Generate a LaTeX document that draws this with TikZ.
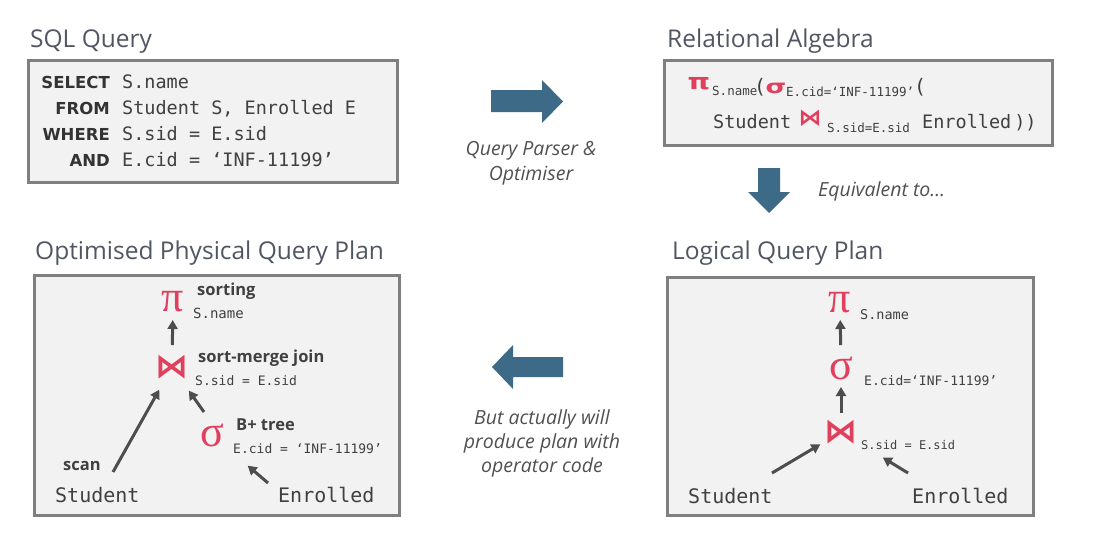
\documentclass[tikz,border=0pt]{standalone}
\usepackage{fontspec}
\setmainfont{Open Sans}
\newfontfamily\codefont{DejaVu Sans Mono}
\newfontfamily\kwfont{DejaVu Sans}
\newfontfamily\grkfont{Liberation Serif}
\newfontfamily\symfont{DejaVu Sans}
\usetikzlibrary{arrows.meta,calc}
\definecolor{titlegray}{RGB}{80,86,98}
\definecolor{boxfill}{RGB}{242,242,242}
\definecolor{boxline}{RGB}{127,127,127}
\definecolor{opred}{RGB}{224,64,94}
\definecolor{arrgray}{RGB}{77,77,77}
\definecolor{blockblue}{RGB}{61,106,134}
\definecolor{captgray}{RGB}{80,80,80}
\definecolor{codegray}{RGB}{64,64,64}
\begin{document}
\begin{tikzpicture}[x=1pt,y=-1pt,
  title/.style={anchor=base west, inner sep=0, text=titlegray, font=\fontsize{24.5}{28}\selectfont},
  panel/.style={fill=boxfill, draw=boxline, line width=3pt},
  code/.style={anchor=base west, inner sep=0, text=codegray, font=\codefont\fontsize{18.5}{22}\selectfont},
  kw/.style={anchor=base east, inner sep=0, text=black!80, font=\kwfont\bfseries\fontsize{16.5}{22}\selectfont},
  caption/.style={anchor=base, inner sep=0, text=captgray, font=\itshape\fontsize{19.5}{24}\selectfont},
  opsym/.style={inner sep=0, text=opred, font=\grkfont\fontsize{44}{44}\selectfont},
  joinsym/.style={inner sep=0, text=opred, font=\symfont\bfseries\fontsize{33}{34}\selectfont},
  rasym/.style={inner sep=0, text=opred, font=\symfont\bfseries\fontsize{22}{24}\selectfont},
  sub/.style={anchor=base west, inner sep=0, text=codegray, font=\codefont\fontsize{13}{15}\selectfont},
  rasub/.style={sub, font=\codefont\fontsize{12.5}{14}\selectfont},
  paren/.style={anchor=base west, inner sep=0, text=codegray, font=\codefont\fontsize{20}{22}\selectfont},
  algo/.style={anchor=base west, inner sep=0, text=black!75, font=\bfseries\fontsize{16.5}{18}\selectfont},
  rel/.style={anchor=base west, inner sep=0, text=codegray, font=\codefont\fontsize{20}{24}\selectfont},
  arr/.style={draw=arrgray, line width=3pt, -{Triangle[length=9pt,width=10pt]}},
  block/.style={fill=blockblue, draw=none}
]
\useasboundingbox (0,0) rectangle (1105,533);

% ---------- SQL Query ----------
\node[title] (tsql) at (30,47) {SQL Query};
\draw[panel] (28,60) rectangle (397,182);
\node[kw] (k1) at (110,88) {SELECT};
\node[kw] (k2) at (110,114) {FROM};
\node[kw] (k3) at (110,140) {WHERE};
\node[kw] (k4) at (110,166) {AND};
\node[code] (c1) at (122,88) {S.name};
\node[code] (c2) at (122,114) {Student S, Enrolled E};
\node[code] (c3) at (122,140) {S.sid = E.sid};
\node[code] (c4) at (122,166) {E.cid = ‘INF-11199’};

% ---------- Relational Algebra ----------
\node[title] (tra) at (667,47) {Relational Algebra};
\draw[panel] (664,60) rectangle (1052,145);
\node[rasym] (rpi) at (699,84) {\scalebox{1.3}[1]{π}};
\node[rasub] (rpisub) at (712,95) {S.name};
\node[paren] (rp1) at (754,93) {(};
\node[rasym, font=\symfont\bfseries\fontsize{19}{22}\selectfont] (rsig) at (776,88) {\scalebox{1.4}[1]{σ}};
\node[rasub] (rsigsub) at (786,96) {E.cid=‘INF-11199’};
\node[paren] (rp2) at (914,93) {(};
\node[code] (rstu) at (713,128) {Student};
\node[rasym, font=\symfont\bfseries\fontsize{23}{24}\selectfont] (rj) at (810,118) {⋈};
\node[rasub] (rjsub) at (827,132) {S.sid=E.sid};
\node[code] (renr) at (922,128) {Enrolled\hspace{3pt}))};

% ---------- Block arrows & captions ----------
\fill[block] (491,90) -- (542,90) -- (542,80) -- (563,101.5) -- (542,123) -- (542,112) -- (491,112) -- cycle;
\node[caption] (cap1a) at (531,155) {Query Parser \&};
\node[caption] (cap1b) at (531,180) {Optimiser};

\fill[block] (758,168) -- (780,168) -- (780,192) -- (790,192) -- (769,213) -- (748,192) -- (758,192) -- cycle;
\node[caption, anchor=base west] (cap2) at (818,196) {Equivalent to…};

\fill[block] (563,357) -- (513,357) -- (513,345) -- (492,367) -- (513,389) -- (513,377) -- (563,377) -- cycle;
\node[caption] (cap3a) at (542,424) {But actually will};
\node[caption] (cap3b) at (542,448) {produce plan with};
\node[caption] (cap3c) at (542,472) {operator code};

% ---------- Optimised Physical Query Plan ----------
\node[title] (tphys) at (35,259) {Optimised Physical Query Plan};
\draw[panel] (34,275) rectangle (399,515);
\node[opsym] (ppi) at (173,302) {π};
\node[joinsym] (pj) at (172,367) {⋈};
\node[opsym] (psig) at (212,435) {σ};
\node[algo] (psort) at (197,295) {sorting};
\node[sub, font=\codefont\fontsize{14}{16}\selectfont] (pname) at (193,318) {S.name};
\node[algo] (psmj) at (198,362) {sort-merge join};
\node[sub] (pjc) at (195,385) {S.sid = E.sid};
\node[algo] (pbt) at (236,430) {B+ tree};
\node[sub] (psc) at (233,453) {E.cid = ‘INF-11199’};
\node[algo] (pscan) at (63,470) {scan};
\node[rel] (pstu) at (55,502) {Student};
\node[rel] (penr) at (278,502) {Enrolled};
\coordinate (pscant) at (113,472);
\coordinate (psigt) at (204,412);
\coordinate (penrt) at (268,483);
\draw[arr] ($(pj.center)!22pt!(ppi.center)$) -- ($(ppi.center)!18pt!(pj.center)$);
\draw[arr] (pscant) -- ($(pj.center)!26pt!(pscant)$);
\draw[arr] (psigt) -- ($(pj.center)!29pt!(psigt)$);
\draw[arr] (penrt) -- ($(psig.center)!47pt!(penrt)$);

% ---------- Logical Query Plan ----------
\node[title] (tlog) at (672,259) {Logical Query Plan};
\draw[panel] (667,277) rectangle (1033,515);
\node[opsym] (lpi) at (840,303) {π};
\node[opsym] (lsig) at (841,368) {σ};
\node[joinsym] (lj) at (841,432) {⋈};
\node[sub, font=\codefont\fontsize{13.5}{15}\selectfont] (lname) at (860,319) {S.name};
\node[sub] (lsc) at (864,385) {E.cid=‘INF-11199’};
\node[sub, font=\codefont\fontsize{12}{14}\selectfont] (ljc) at (861,449) {S.sid = E.sid};
\node[rel] (lstu) at (688,503) {Student};
\node[rel] (lenr) at (912,503) {Enrolled};
\coordinate (lstut) at (772,473);
\coordinate (lenrt) at (908,473);
\draw[arr] ($(lsig.center)!23pt!(lpi.center)$) -- ($(lpi.center)!17pt!(lsig.center)$);
\draw[arr] ($(lj.center)!19pt!(lsig.center)$) -- ($(lsig.center)!19pt!(lj.center)$);
\draw[arr] (lstut) -- ($(lj.center)!24pt!(lstut)$);
\draw[arr] (lenrt) -- ($(lj.center)!49pt!(lenrt)$);
\end{tikzpicture}
\end{document}
